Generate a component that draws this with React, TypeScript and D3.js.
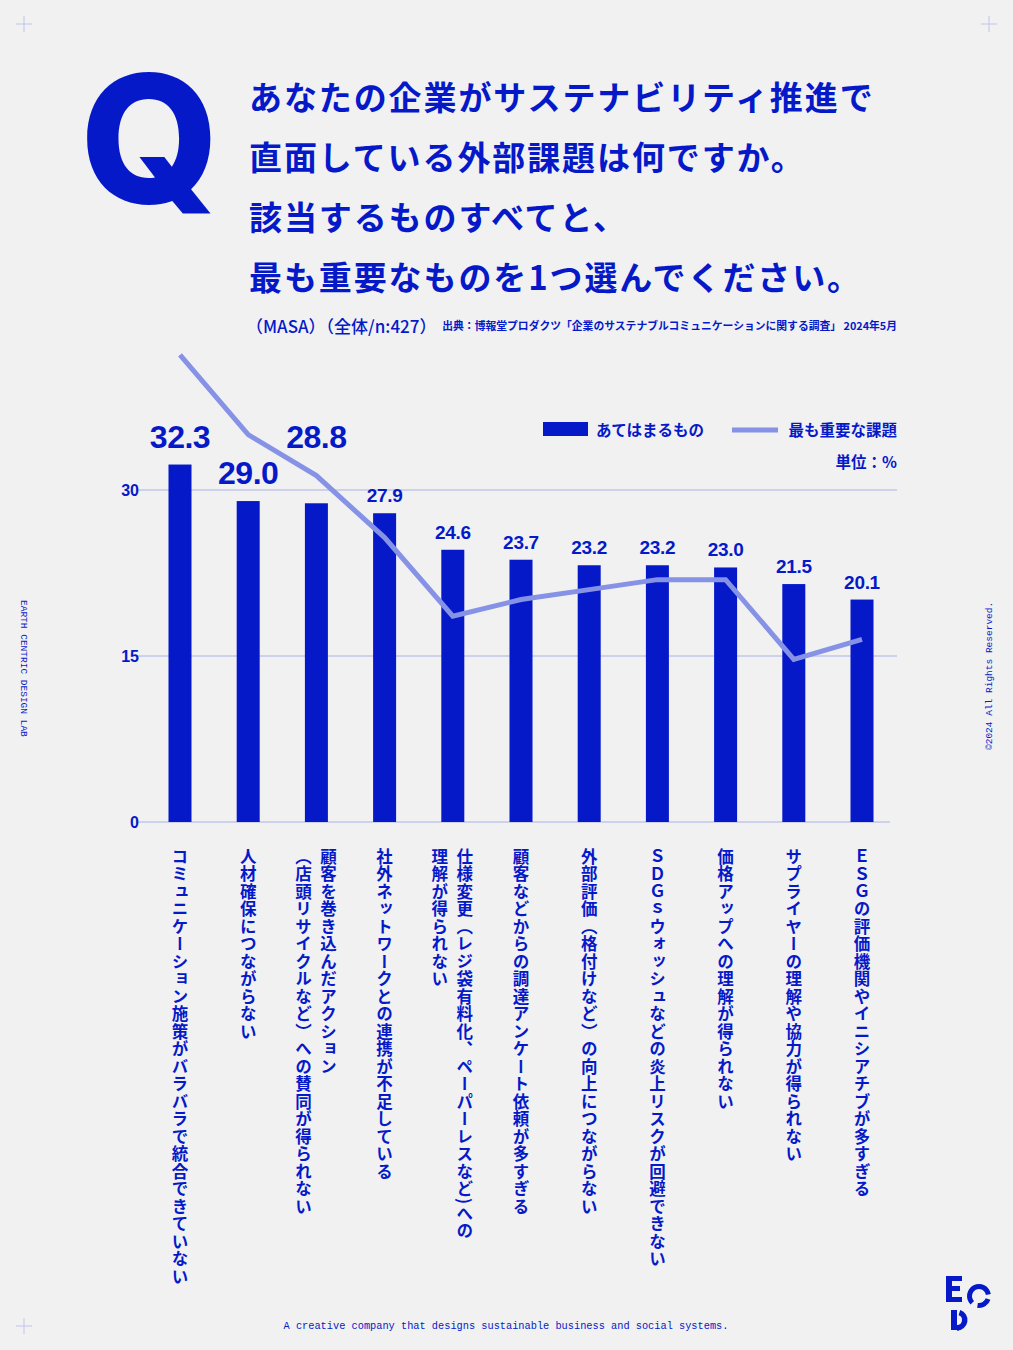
import React, { useEffect, useRef } from 'react';
import * as d3 from 'd3';

// 課題カテゴリ（縦書きラベル、改行で列を分ける）
const categories = [
  'コミュニケーション施策がバラバラで統合できていない',
  '人材確保につながらない',
  '顧客を巻き込んだアクション\n（店頭リサイクルなど）への賛同が得られない',
  '社外ネットワークとの連携が不足している',
  '仕様変更（レジ袋有料化、ペーパーレスなど)への\n理解が得られない',
  '顧客などからの調達アンケート依頼が多すぎる',
  '外部評価（格付けなど）の向上につながらない',
  'ＳＤＧｓウォッシュなどの炎上リスクが回避できない',
  '価格アップへの理解が得られない',
  'サプライヤーの理解や協力が得られない',
  'ＥＳＧの評価機関やイニシアチブが多すぎる',
];

const applicable = [32.3, 29.0, 28.8, 27.9, 24.6, 23.7, 23.2, 23.2, 23.0, 21.5, 20.1];
const mostImportant = [42.2, 35.0, 31.3, 25.7, 18.6, 20.1, 21.0, 21.9, 21.9, 14.7, 16.5];
const yTicks = [0, 15, 30];

const titleLines = [
  'あなたの企業がサステナビリティ推進で',
  '直面している外部課題は何ですか。',
  '該当するものすべてと、',
  '最も重要なものを1つ選んでください。',
];

const BLUE = '#0519c9';
const LIGHT = '#8692e6';
const GRID = '#aab1e8';
const JP = '"Noto Sans CJK JP", "Noto Sans", sans-serif';
const NUM = '"Liberation Sans", Arial, sans-serif';
const MONO = '"Liberation Mono", "DejaVu Sans Mono", monospace';

export default function App() {
  const svgRef = useRef<SVGSVGElement>(null);

  useEffect(() => {
    document.body.style.margin = '0';
    document.body.style.overflow = 'hidden';
    const elm = svgRef.current;
    if (!elm) return;
    const svg = d3.select(elm);
    svg.selectAll('*').remove();

    const W = 1013, H = 1350;
    svg.attr('width', W).attr('height', H);

    svg.append('rect').attr('width', W).attr('height', H).attr('fill', '#f1f1f1');

    // corner crosshairs
    [[24, 24], [989, 24], [24, 1326]].forEach(([cx, cy]) => {
      const g = svg.append('g').attr('stroke', '#bfc4ee').attr('stroke-width', 1);
      g.append('line').attr('x1', cx - 8).attr('x2', cx + 8).attr('y1', cy).attr('y2', cy);
      g.append('line').attr('x1', cx).attr('x2', cx).attr('y1', cy - 8).attr('y2', cy + 8);
    });

    // Q
    svg.append('text')
      .text('Q')
      .attr('x', 80).attr('y', 203)
      .attr('font-family', 'Inter, "Liberation Sans", sans-serif')
      .attr('font-weight', 800)
      .attr('font-size', 178)
      .attr('fill', BLUE);

    // title
    titleLines.forEach((t, i) => {
      svg.append('text')
        .text(t)
        .attr('x', 249).attr('y', 110 + i * 60)
        .attr('font-family', JP)
        .attr('font-weight', 700)
        .attr('font-size', 33)
        .attr('letter-spacing', 1.9)
        .attr('fill', BLUE);
    });

    svg.append('text')
      .text('（MASA）（全体/n:427）')
      .attr('x', 246).attr('y', 333)
      .attr('font-family', JP)
      .attr('font-weight', 500)
      .attr('font-size', 17)
      .attr('fill', BLUE);

    svg.append('text')
      .text('出典：博報堂プロダクツ「企業のサステナブルコミュニケーションに関する調査」 2024年5月')
      .attr('x', 897).attr('y', 330)
      .attr('text-anchor', 'end')
      .attr('font-family', JP)
      .attr('font-weight', 700)
      .attr('font-size', 10.8)
      .attr('fill', BLUE);

    // scales
    const x = d3.scalePoint<number>()
      .domain(d3.range(categories.length))
      .range([180, 862]);
    const y = d3.scaleLinear().domain([0, 30]).range([822, 490]);
    const barW = 23;

    // grid
    svg.append('g').selectAll('line')
      .data(yTicks)
      .enter()
      .append('line')
      .attr('x1', 137).attr('x2', (d) => (d === 0 ? 890 : 897))
      .attr('y1', (d) => y(d)).attr('y2', (d) => y(d))
      .attr('stroke', GRID)
      .attr('stroke-width', 1);

    svg.append('g').selectAll('text')
      .data(yTicks)
      .enter()
      .append('text')
      .text((d) => d)
      .attr('x', 139).attr('y', (d) => y(d) + 6)
      .attr('text-anchor', 'end')
      .attr('font-family', NUM)
      .attr('font-weight', 700)
      .attr('font-size', 16)
      .attr('fill', BLUE);

    // bars
    svg.append('g').selectAll('rect')
      .data(applicable)
      .enter()
      .append('rect')
      .attr('x', (_, i) => (x(i) as number) - barW / 2)
      .attr('y', (d) => y(d))
      .attr('width', barW)
      .attr('height', (d) => y(0) - y(d))
      .attr('fill', BLUE);

    // line
    const line = d3.line<number>()
      .x((_, i) => x(i) as number)
      .y((d) => y(d));
    svg.append('path')
      .datum(mostImportant)
      .attr('d', line)
      .attr('fill', 'none')
      .attr('stroke', LIGHT)
      .attr('stroke-width', 5);

    // value labels
    svg.append('g').selectAll('text')
      .data(applicable)
      .enter()
      .append('text')
      .text((d) => d.toFixed(1))
      .attr('x', (_, i) => x(i) as number)
      .attr('y', (d, i) => (i === 2 ? y(d) - 55 : y(d) - (i < 3 ? 17 : 11)))
      .attr('text-anchor', 'middle')
      .attr('font-family', NUM)
      .attr('font-weight', 700)
      .attr('font-size', (_, i) => (i < 3 ? 32 : 19))
      .attr('letter-spacing', (_, i) => (i < 3 ? -0.5 : -0.3))
      .attr('fill', BLUE);

    // category labels (vertical)
    categories.forEach((c, i) => {
      const cols = c.split('\n');
      const cx = x(i) as number;
      cols.forEach((t, j) => {
        const off = cols.length === 1 ? 0 : (j === 0 ? 12 : -13);
        svg.append('text')
          .text(t)
          .attr('x', cx + off)
          .attr('y', 848)
          .style('writing-mode', 'vertical-rl')
          .style('text-orientation', 'mixed')
          .attr('font-family', JP)
          .attr('font-weight', 700)
          .attr('font-size', 16.5)
          .attr('letter-spacing', 1)
          .attr('fill', BLUE);
      });
    });

    // legend
    svg.append('rect').attr('x', 543).attr('y', 422).attr('width', 45).attr('height', 14).attr('fill', BLUE);
    svg.append('text').text('あてはまるもの')
      .attr('x', 596).attr('y', 436)
      .attr('font-family', JP).attr('font-weight', 700).attr('font-size', 15.5)
      .attr('fill', BLUE);
    svg.append('line').attr('x1', 732).attr('x2', 778).attr('y1', 430).attr('y2', 430)
      .attr('stroke', LIGHT).attr('stroke-width', 5);
    svg.append('text').text('最も重要な課題')
      .attr('x', 897).attr('y', 436)
      .attr('text-anchor', 'end')
      .attr('font-family', JP).attr('font-weight', 700).attr('font-size', 15.5)
      .attr('fill', BLUE);
    svg.append('text').text('単位：%')
      .attr('x', 897).attr('y', 468)
      .attr('text-anchor', 'end')
      .attr('font-family', JP).attr('font-weight', 700).attr('font-size', 15.5)
      .attr('fill', BLUE);

    // side texts
    svg.append('text').text('EARTH CENTRIC DESIGN LAB')
      .attr('transform', 'translate(21,600) rotate(90)')
      .attr('font-family', MONO).attr('font-size', 9.5)
      .attr('fill', BLUE);
    svg.append('text').text('©2024 All Rights Reserved.')
      .attr('transform', 'translate(992,750) rotate(-90)')
      .attr('font-family', MONO).attr('font-size', 9.5)
      .attr('fill', BLUE);
    svg.append('text').text('A creative company that designs sustainable business and social systems.')
      .attr('x', 506).attr('y', 1329)
      .attr('text-anchor', 'middle')
      .attr('font-family', MONO).attr('font-size', 10.3)
      .attr('fill', BLUE);

    // ECD logo
    const logo = svg.append('g').attr('fill', BLUE);
    logo.append('path')
      .attr('d', 'M946,1276 H962 V1281 H952 V1286 H960 V1291 H952 V1297 H962 V1302 H946 Z');
    const arc = d3.arc();
    logo.append('path')
      .attr('transform', 'translate(979,1296)')
      .attr('d', arc({ innerRadius: 7, outerRadius: 12, startAngle: -Math.PI * 0.75, endAngle: Math.PI * 0.45 }) as string);
    logo.append('path')
      .attr('transform', 'translate(979,1296)')
      .attr('d', arc({ innerRadius: 7, outerRadius: 12, startAngle: Math.PI * 0.6, endAngle: Math.PI * 1.05 }) as string);
    logo.append('rect').attr('x', 951).attr('y', 1310).attr('width', 6).attr('height', 20);
    logo.append('path')
      .attr('transform', 'translate(957,1320)')
      .attr('d', arc({ innerRadius: 5, outerRadius: 10.5, startAngle: Math.PI * 0.1, endAngle: Math.PI }) as string);
    logo.append('rect').attr('x', 957).attr('y', 1325).attr('width', 2).attr('height', 5.5);
  }, []);

  return <svg ref={svgRef} style={{ display: 'block' }}></svg>;
}
